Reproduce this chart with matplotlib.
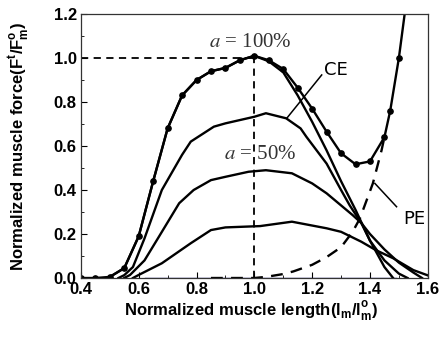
import matplotlib
matplotlib.use("Agg")
import matplotlib.pyplot as plt
from matplotlib.ticker import MultipleLocator, FormatStrFormatter

# ---- data ----
total_x = [0.40, 0.45, 0.50, 0.55, 0.60, 0.65, 0.70, 0.75, 0.80, 0.85, 0.90, 0.95,
           1.00, 1.05, 1.10, 1.15, 1.20, 1.25, 1.30, 1.35, 1.40, 1.45, 1.47, 1.50, 1.53]
total_y = [0.00, 0.00, 0.005, 0.045, 0.19, 0.44, 0.68, 0.83, 0.90, 0.94, 0.955, 0.99,
           1.01, 0.99, 0.95, 0.865, 0.77, 0.665, 0.567, 0.517, 0.53, 0.64, 0.76, 1.00, 1.30]

ce100_x = [0.50, 0.55, 0.60, 0.65, 0.70, 0.75, 0.80, 0.85, 0.90, 0.95, 1.00, 1.05,
           1.10, 1.15, 1.20, 1.25, 1.30, 1.35, 1.40, 1.45, 1.48]
ce100_y = [0.005, 0.045, 0.19, 0.44, 0.68, 0.83, 0.90, 0.94, 0.955, 0.99, 1.01, 0.985,
           0.935, 0.83, 0.71, 0.58, 0.44, 0.31, 0.17, 0.05, 0.0]

ce75_x = [0.53, 0.55, 0.58, 0.62, 0.68, 0.75, 0.78, 0.86, 0.90, 1.00, 1.04, 1.11,
          1.16, 1.18, 1.25, 1.30, 1.33, 1.37, 1.40, 1.45, 1.50, 1.53]
ce75_y = [0.0, 0.013, 0.05, 0.18, 0.40, 0.56, 0.62, 0.688, 0.703, 0.733, 0.749, 0.726,
          0.68, 0.642, 0.52, 0.40, 0.33, 0.25, 0.17, 0.08, 0.02, 0.0]

ce50_x = [0.55, 0.57, 0.62, 0.67, 0.74, 0.79, 0.85, 0.90, 0.98, 1.04, 1.13, 1.20,
          1.25, 1.30, 1.34, 1.37, 1.40, 1.45, 1.50, 1.55, 1.58]
ce50_y = [0.0, 0.014, 0.08, 0.188, 0.34, 0.40, 0.445, 0.46, 0.483, 0.49, 0.476, 0.43,
          0.385, 0.33, 0.286, 0.25, 0.20, 0.13, 0.07, 0.025, 0.0]

ce25_x = [0.58, 0.60, 0.68, 0.78, 0.85, 0.90, 1.02, 1.13, 1.25, 1.30, 1.37, 1.42,
          1.48, 1.55, 1.60]
ce25_y = [0.0, 0.014, 0.067, 0.158, 0.218, 0.23, 0.236, 0.256, 0.226, 0.21, 0.165, 0.127,
          0.09, 0.036, 0.012]

pe_x = [0.85, 1.00, 1.04, 1.10, 1.135, 1.20, 1.25, 1.30, 1.34, 1.365, 1.41, 1.44, 1.45]
pe_y = [0.0, 0.0, 0.005, 0.018, 0.03, 0.06, 0.095, 0.14, 0.21, 0.27, 0.43, 0.58, 0.64]

base_x = [0.62, 1.49]
base_y = [0.0, 0.0]

ref_x = 1.0
ref_y = 1.0

# ---- figure ----
fig = plt.figure(figsize=(4.47, 3.38), dpi=100)
ax = fig.add_axes([0.181, 0.1775, 0.776, 0.781])

ax.plot(base_x, base_y, color="#1a1a80", lw=1.0, zorder=1)
ax.plot([0.4, ref_x], [ref_y, ref_y], color="black", lw=1.3, ls=(0, (4, 3)))
ax.plot([ref_x, ref_x], [0, ref_y], color="black", lw=1.3, ls=(0, (4, 3)))

lw = 1.7
ax.plot(ce25_x, ce25_y, color="black", lw=lw)
ax.plot(ce50_x, ce50_y, color="black", lw=lw)
ax.plot(ce75_x, ce75_y, color="black", lw=lw)
ax.plot(ce100_x, ce100_y, color="black", lw=lw)
ax.plot(pe_x, pe_y, color="black", lw=lw, ls=(0, (5, 3.5)))
ax.plot(total_x, total_y, color="black", lw=lw, marker="o", markersize=3.8)

# annotations
ax.text(0.985, 1.07, r"$a$ = 100%", fontsize=15, family="Liberation Serif",
        math_fontfamily="stix", ha="center", va="center", color="#333333")
ax.text(1.02, 0.56, r"$a$ = 50%", fontsize=15, family="Liberation Serif",
        math_fontfamily="stix", ha="center", va="center", color="#333333")
ax.text(1.24, 0.945, "CE", fontsize=13, family="DejaVu Sans", ha="left", va="center")
ax.plot([1.233, 1.112], [0.923, 0.726], color="black", lw=1.1)
ax.text(1.515, 0.27, "PE", fontsize=13, family="DejaVu Sans", ha="left", va="center")
ax.plot([1.492, 1.417], [0.324, 0.43], color="black", lw=1.1)

ax.set_xlim(0.4, 1.6)
ax.set_ylim(0.0, 1.2)
ax.xaxis.set_major_locator(MultipleLocator(0.2))
ax.xaxis.set_minor_locator(MultipleLocator(0.1))
ax.yaxis.set_major_locator(MultipleLocator(0.2))
ax.yaxis.set_minor_locator(MultipleLocator(0.1))
ax.tick_params(which="both", direction="in", top=False, right=False)
ax.tick_params(which="major", length=4, labelsize=12)
ax.tick_params(axis="x", which="major", pad=3)
ax.tick_params(axis="y", which="major", pad=3)
ax.tick_params(which="minor", length=2.5)
ax.xaxis.set_major_formatter(FormatStrFormatter("%.1f"))
ax.yaxis.set_major_formatter(FormatStrFormatter("%.1f"))
for lab in ax.get_xticklabels() + ax.get_yticklabels():
    lab.set_fontweight("bold")
    lab.set_family("Liberation Sans")
for s in ax.spines.values():
    s.set_linewidth(0.9)
    s.set_color("#333333")

ax.set_xlabel(r"Normalized muscle length(l$_\mathregular{m}$/l$^\mathregular{o}_\mathregular{m}$)",
              fontsize=12, fontweight="bold", family="Liberation Sans")
ax.set_ylabel(r"Normalized muscle force(F$^\mathregular{t}$/F$^\mathregular{o}_\mathregular{m}$)",
              fontsize=12, fontweight="bold", family="Liberation Sans")
ax.xaxis.set_label_coords(0.49, -0.08)
ax.yaxis.set_label_coords(-0.141, 0.5)

fig.savefig("out.png", dpi=100)
